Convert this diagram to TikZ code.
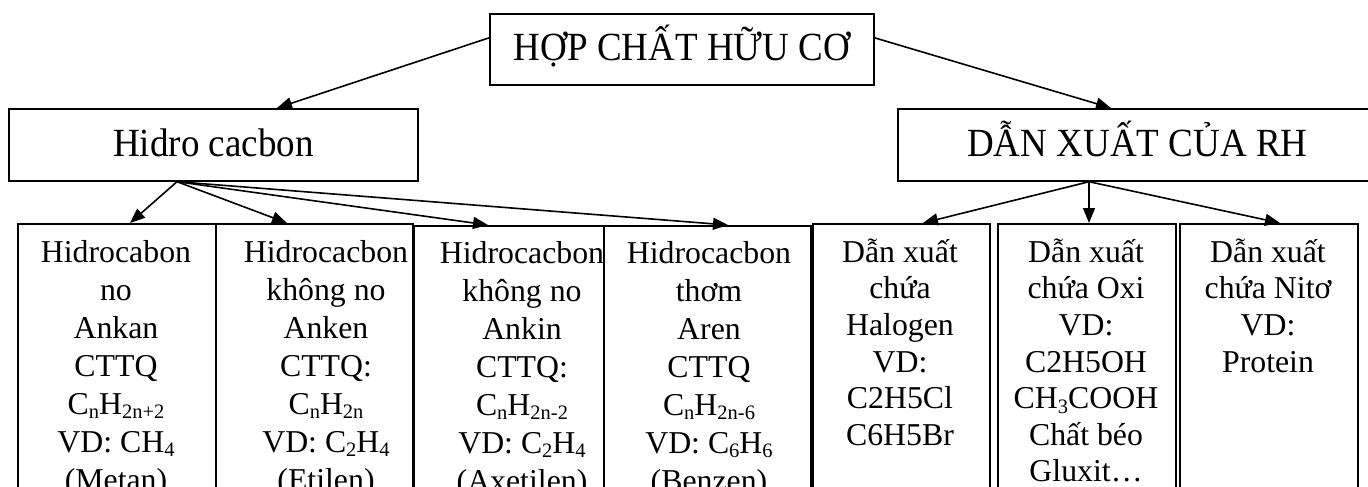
\documentclass[tikz,border=0pt]{standalone}
\usepackage{fontspec}
\setmainfont{Liberation Serif}
\usetikzlibrary{arrows.meta}
\newcommand{\sbs}[1]{\raisebox{-0.14em}{\fontsize{20.5pt}{20pt}\selectfont #1}}
\newcommand{\bigfnt}{\fontsize{37pt}{42pt}\selectfont}
\newcommand{\smfnt}{\fontsize{31.8pt}{36.6pt}\selectfont}
\newcommand{\smfntw}{\fontsize{31.8pt}{38pt}\selectfont}
\newcommand{\fst}{\rule{0pt}{30pt}}
\newcommand{\tall}[1]{\scalebox{1}[1.08]{#1}}
\begin{document}
\begin{tikzpicture}[x=1pt,y=-1pt,
  box/.style={draw=black, line width=1.7pt, rectangle, inner sep=0pt, anchor=north west},
  hbox/.style={box, font=\bigfnt, text height=23pt, text depth=0pt},
  btext/.style={font=\smfnt, align=center, inner sep=0pt, anchor=north},
  wtext/.style={btext, font=\smfntw},
  arr/.style={-{Triangle[length=15pt,width=12pt]}, line width=1.6pt}]
\useasboundingbox (0,0) rectangle (1368,487);
\fill[white] (0,0) rectangle (1368,487);
\clip (0,0) rectangle (1368,487);
% upper boxes
\node[hbox, minimum width=384pt, minimum height=71pt] (top) at (489,13) {\tall{HỢP CHẤT HỮU CƠ}};
\node[hbox, minimum width=409pt, minimum height=72pt] (hc) at (8,108) {\tall{Hidro cacbon}};
\node[hbox, minimum width=479pt, minimum height=72pt] (dx) at (897,108) {\tall{DẪN XUẤT CỦA RH}};
% lower boxes
\node[box, minimum width=198pt, minimum height=300pt] (b1) at (17,223) {};
\node[box, minimum width=197pt, minimum height=300pt] (b2) at (215,223) {};
\node[box, minimum width=190pt, minimum height=300pt] (b3) at (413,225) {};
\node[box, minimum width=207pt, minimum height=300pt] (b4) at (603,225) {};
\node[box, minimum width=177pt, minimum height=300pt] (b5) at (812,223) {};
\node[box, minimum width=178pt, minimum height=300pt] (b6) at (997,223) {};
\node[box, minimum width=178pt, minimum height=300pt] (b7) at (1179,223) {};
% texts
\node[wtext] (t1) at (116,232) {\fst Hidrocabon\\no\\Ankan\\CTTQ\\C\sbs{n}H\sbs{2n+2}\\VD: CH\sbs{4}\\(Metan)};
\node[wtext] (t2) at (326,232) {\fst Hidrocacbon\\không no\\Anken\\CTTQ:\\C\sbs{n}H\sbs{2n}\\VD: C\sbs{2}H\sbs{4}\\(Etilen)};
\node[wtext] (t3) at (522,233) {\fst Hidrocacbon\\không no\\Ankin\\CTTQ:\\C\sbs{n}H\sbs{2n-2}\\VD: C\sbs{2}H\sbs{4}\\(Axetilen)};
\node[wtext] (t4) at (709,233) {\fst Hidrocacbon\\thơm\\Aren\\CTTQ\\C\sbs{n}H\sbs{2n-6}\\VD: C\sbs{6}H\sbs{6}\\(Benzen)};
\node[btext] (t5) at (900,232) {\fst Dẫn xuất\\chứa\\Halogen\\VD:\\C2H5Cl\\C6H5Br};
\node[btext] (t6) at (1086,232) {\fst Dẫn xuất\\chứa Oxi\\VD:\\C2H5OH\\CH\sbs{3}COOH\\Chất béo\\Gluxit…};
\node[btext] (t7) at (1268,232) {\fst Dẫn xuất\\chứa Nitơ\\VD:\\Protein};
% connectors
\draw[arr] ([yshift=11.5pt]top.west) -- ([xshift=269pt]hc.north west);
\draw[arr] ([yshift=11.5pt]top.east) -- ([xshift=214pt]dx.north west);
\draw[arr] ([xshift=169pt]hc.south west) -- ([xshift=113pt]b1.north west);
\draw[arr] ([xshift=169pt]hc.south west) -- ([xshift=72pt]b2.north west);
\draw[arr] ([xshift=169pt]hc.south west) -- ([xshift=75pt]b3.north west);
\draw[arr] ([xshift=169pt]hc.south west) -- ([xshift=125pt]b4.north west);
\draw[arr] ([xshift=192pt]dx.south west) -- ([xshift=111pt]b5.north west);
\draw[arr] ([xshift=192pt]dx.south west) -- ([xshift=92pt]b6.north west);
\draw[arr] ([xshift=192pt]dx.south west) -- ([xshift=101pt]b7.north west);
\end{tikzpicture}
\end{document}
